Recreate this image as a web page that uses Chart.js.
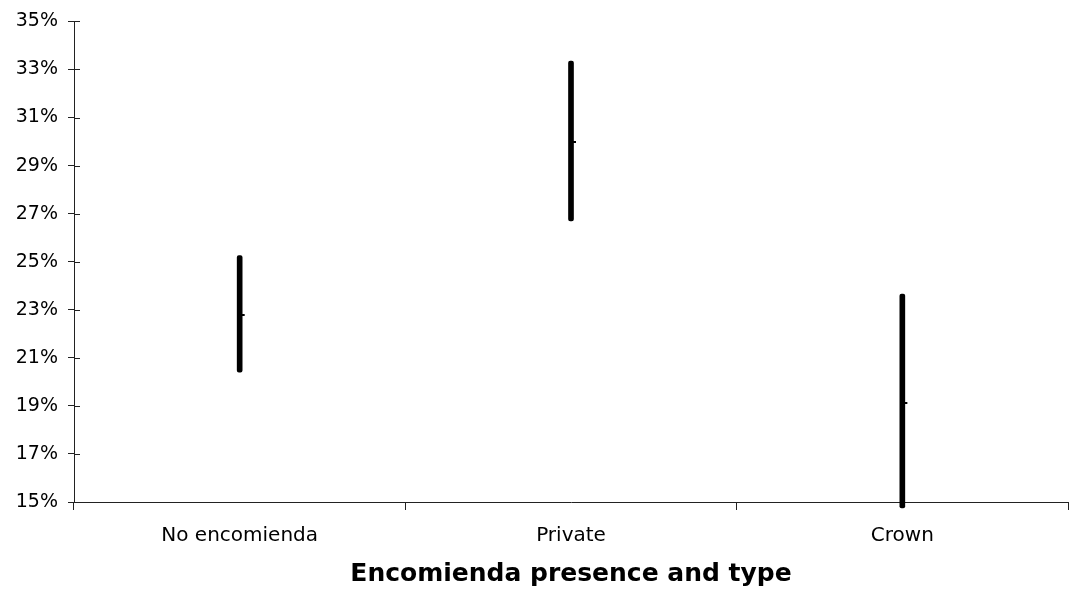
<!DOCTYPE html>
<html>
<head>
<meta charset="utf-8">
<script src="https://cdn.jsdelivr.net/npm/chart.js@4.4.1/dist/chart.umd.min.js"></script>
<style>
  html, body { margin: 0; padding: 0; background: #fff; overflow: hidden; }
  #wrap { width: 1073px; height: 592px; }
</style>
</head>
<body>
<div id="wrap"><canvas id="chart" width="1073" height="592"></canvas></div>
<script>
const categories = ['No encomienda', 'Private', 'Crown'];
const lowValues = [20.4, 26.7, 14.75];
const highValues = [25.25, 33.35, 23.65];
const meanValues = [22.8, 30.0, 19.1];

// small tick to the right of the range line, used as point style
const meanMark = document.createElement('canvas');
meanMark.width = 16;
meanMark.height = 2;
const mctx = meanMark.getContext('2d');
mctx.fillStyle = '#000';
mctx.fillRect(8, 0, 5, 2);

// tick marks that cross into the plot area too
const innerTicks = {
    id: 'innerTicks',
    afterDraw(chart) {
        const ctx = chart.ctx;
        const y = chart.scales.y;
        const x = chart.scales.x;
        ctx.save();
        ctx.strokeStyle = '#222';
        ctx.lineWidth = 1;
        ctx.beginPath();
        y.ticks.forEach(t => {
            const py = Math.round(y.getPixelForValue(t.value)) + 0.5;
            ctx.moveTo(x.left, py);
            ctx.lineTo(x.left + 6, py);
        });
        ctx.stroke();
        ctx.restore();
    }
};

new Chart(document.getElementById('chart'), {
    data: {
        labels: categories,
        datasets: [{
            type: 'bar',
            data: categories.map((c, i) => [lowValues[i], highValues[i]]),
            backgroundColor: '#000',
            barThickness: 5,
            borderSkipped: false,
            borderRadius: 2,
            clip: false
        }, {
            type: 'line',
            data: meanValues,
            showLine: false,
            pointStyle: meanMark,
            pointRadius: 4
        }]
    },
    options: {
        responsive: false,
        animation: false,
        layout: { padding: { top: 19, right: 0, left: 0, bottom: 0 } },
        plugins: {
            legend: { display: false },
            tooltip: { enabled: false }
        },
        scales: {
            x: {
                offset: true,
                grid: { offset: true, drawOnChartArea: false, tickLength: 8, color: '#222' },
                border: { color: '#222' },
                ticks: { color: '#000', padding: 14, font: { family: 'DejaVu Sans', size: 20 } },
                title: {
                    display: true,
                    text: 'Encomienda presence and type',
                    color: '#000',
                    padding: { top: 0, bottom: 3 },
                    font: { family: 'DejaVu Sans', size: 25, weight: 'bold' }
                },
                afterFit(scale) { scale.height = 90; }
            },
            y: {
                min: 15,
                max: 35,
                grid: { drawOnChartArea: false, tickLength: 6, color: '#222' },
                border: { color: '#222' },
                ticks: {
                    stepSize: 2,
                    color: '#000',
                    padding: 10,
                    font: { family: 'DejaVu Sans', size: 19 },
                    callback: v => v + '%'
                },
                afterFit(scale) { scale.width = 74; }
            }
        }
    },
    plugins: [innerTicks]
});
</script>
</body>
</html>
